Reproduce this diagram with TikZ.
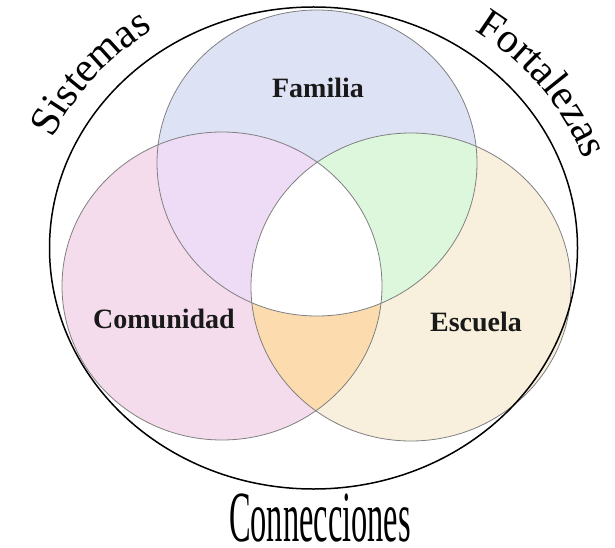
\documentclass[tikz,border=0pt]{standalone}
\usepackage{fontspec}
\setmainfont{Liberation Serif}
\usetikzlibrary{decorations.text}

\definecolor{famblue}{HTML}{DDE2F5}
\definecolor{compink}{HTML}{F5DCEC}
\definecolor{esccream}{HTML}{F8F0DC}
\definecolor{famcom}{HTML}{EEDCF7}
\definecolor{famesc}{HTML}{DDF7DD}
\definecolor{comesc}{HTML}{FCDCAE}

\newcommand{\famring}{(fam) ellipse [x radius=160pt, y radius=153pt]}
\newcommand{\comring}{(com) ellipse [x radius=160pt, y radius=154pt]}
\newcommand{\escring}{(esc) ellipse [x radius=160pt, y radius=154pt]}

\begin{document}
\begin{tikzpicture}[x=1pt,y=1pt,
  ring/.style={draw=black!50, line width=0.8pt},
  setlabel/.style={font=\fontsize{28}{28}\selectfont\bfseries, text=black!90},
  arclabel/.style={decorate, decoration={text along path, text align=center, text={#1}}}]
  \useasboundingbox (0,0) rectangle (615,547);
  \coordinate (fam) at (317,384);
  \coordinate (com) at (222,261);
  \coordinate (esc) at (411,260);
  \coordinate (mid) at (313.5,299);
  % base colours
  \fill[famblue] \famring;
  \fill[compink] \comring;
  \fill[esccream] \escring;
  % pairwise overlaps
  \begin{scope}
    \clip \famring;
    \fill[famcom] \comring;
    \fill[famesc] \escring;
  \end{scope}
  \begin{scope}
    \clip \comring;
    \fill[comesc] \escring;
  \end{scope}
  \begin{scope}
    \clip \famring;
    \clip \comring;
    \fill[white] \escring;
  \end{scope}
  \draw[ring] \famring;
  \draw[ring] \comring;
  \draw[ring] \escring;
  \draw[line width=1.5pt] (mid) ellipse [x radius=264pt, y radius=241pt];
  % labels
  \node[setlabel] (famlabel) at (318,459) {Familia};
  \node[setlabel] (comlabel) at (164,228) {Comunidad};
  \node[setlabel] (esclabel) at (476,225) {Escuela};
  \path[arclabel={|\fontsize{42}{42}\selectfont|Sistemas}]
    (mid) ++(166:287pt and 263pt) arc[start angle=166, end angle=114, x radius=287pt, y radius=263pt];
  \path[arclabel={|\fontsize{42}{42}\selectfont|Fortalezas}]
    (mid) ++(64:287pt and 263pt) arc[start angle=64, end angle=11, x radius=287pt, y radius=263pt];
  \node[font=\fontsize{72}{72}\selectfont, xscale=0.45, anchor=base] (conn) at (320,6) {Connecciones};
\end{tikzpicture}
\end{document}
